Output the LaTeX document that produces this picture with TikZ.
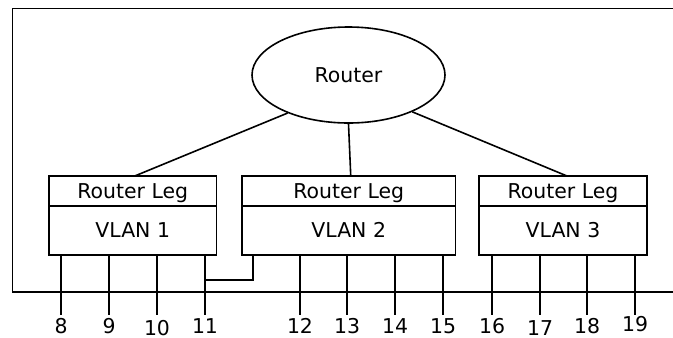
\documentclass[tikz,border=0pt]{standalone}
\usepackage{fontspec}
\setmainfont{DejaVu Sans}
\usepackage{tikz}
\usetikzlibrary{positioning,shapes.geometric}

\begin{document}
\begin{tikzpicture}[x=1bp,y=-1bp,line width=1.6bp,node distance=0bp,
        font=\fontsize{20.5}{24}\selectfont,
        leg/.style={draw,rectangle,minimum height=29.7bp,inner sep=0pt,outer sep=0pt,text depth=0pt},
        vlan/.style={draw,rectangle,minimum height=49.3bp,inner sep=0pt,outer sep=0pt},
        port/.style={anchor=north,inner sep=0pt}]
        \useasboundingbox (0,0) rectangle (673,337);
        % switch frame, open on the right
        \draw (673,8.5) -| (12.5,292) -- (673,292);
        \node[draw,ellipse,minimum width=193bp,minimum height=96bp,inner sep=0pt] (router) at (348.5,75) {Router};
        \node[leg,minimum width=167.5bp] (leg1) at (132.75,190.85) {Router Leg};
        \node[vlan,minimum width=167.5bp] (vlan1) [below=of leg1] {VLAN 1};
        \node[leg,minimum width=213.5bp] (leg2) at (348.75,190.85) {Router Leg};
        \node[vlan,minimum width=213.5bp] (vlan2) [below=of leg2] {VLAN 2};
        \node[leg,minimum width=168bp] (leg3) at (563,190.85) {Router Leg};
        \node[vlan,minimum width=168bp] (vlan3) [below=of leg3] {VLAN 3};
        \path   (router.212) edge ([xshift=2bp]leg1.north)
                (router.south) edge ([xshift=2bp]leg2.north)
                (router.330) edge ([xshift=4bp]leg3.north);
        % ports
        \foreach \x/\n/\vl/\dy in {61/8/vlan1/0, 109/9/vlan1/0, 157/10/vlan1/-2, 205/11/vlan1/0,
                300/12/vlan2/0, 347/13/vlan2/0, 395/14/vlan2/0, 443/15/vlan2/0,
                492/16/vlan3/0, 540/17/vlan3/-2, 587/18/vlan3/0, 635/19/vlan3/2}{
            \coordinate (e\n) at (\x,315);
            \node[port] (p\n) at ([yshift=\dy bp]\x,318) {\n};
            \draw (\vl.south -| e\n) -- (e\n);
        }
        \coordinate (j11) at (205,280);
        \draw (j11) -| ([xshift=10.7bp]vlan2.south west);
\end{tikzpicture}
\end{document}
